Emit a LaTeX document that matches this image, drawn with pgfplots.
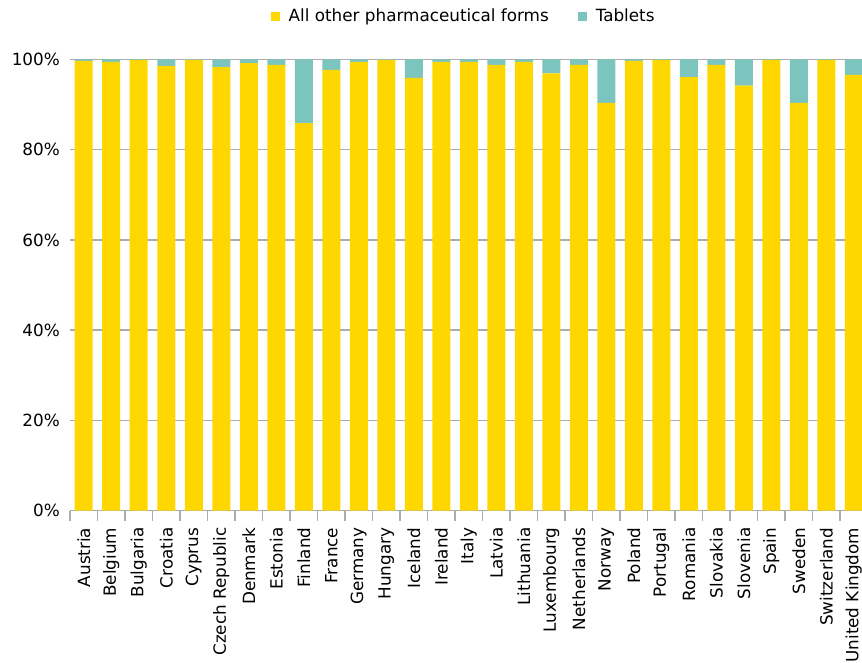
\documentclass[border=0pt]{standalone}
\usepackage{pgfplots}
\usepackage{pgfplotstable}
\pgfplotsset{compat=1.18}
\usepackage{fontspec}
\setmainfont{DejaVu Sans}
\definecolor{ylw}{RGB}{255,215,0}
\definecolor{tealc}{RGB}{124,196,190}
\definecolor{gridg}{RGB}{172,172,172}
\newcommand{\fs}{\fontsize{16.8}{20}\selectfont}
\pgfplotstableread{
x other tab
0 99.7 0.3
1 99.5 0.5
2 99.9 0.1
3 98.6 1.4
4 99.9 0.1
5 98.3 1.7
6 99.2 0.8
7 98.8 1.2
8 85.9 14.1
9 97.7 2.3
10 99.5 0.5
11 99.9 0.1
12 95.9 4.1
13 99.5 0.5
14 99.5 0.5
15 98.8 1.2
16 99.5 0.5
17 96.9 3.1
18 98.8 1.2
19 90.4 9.6
20 99.7 0.3
21 99.9 0.1
22 96.1 3.9
23 98.8 1.2
24 94.2 5.8
25 99.9 0.1
26 90.4 9.6
27 99.9 0.1
28 96.6 3.4
}\data
\begin{document}
\begin{tikzpicture}
\begin{axis}[
  at={(0,0)}, anchor=south west,
  scale only axis, width=792pt, height=451pt,
  ybar stacked, bar width=18pt,
  enlargelimits=false,
  xmin=-0.5, xmax=28.3, ymin=0, ymax=100,
  axis x line*=bottom, axis y line*=left,
  y axis line style={draw=none},
  x axis line style={draw=gridg, line width=1.5pt},
  xtick={0,...,28},
  xticklabels={Austria,Belgium,Bulgaria,Croatia,Cyprus,Czech Republic,Denmark,Estonia,Finland,France,Germany,Hungary,Iceland,Ireland,Italy,Latvia,Lithuania,Luxembourg,Netherlands,Norway,Poland,Portugal,Romania,Slovakia,Slovenia,Spain,Sweden,Switzerland,United Kingdom},
  minor xtick={-0.5,0.5,...,27.5},
  major tick length=0pt, minor tick length=10pt, tick align=outside,
  minor tick style={draw=gridg, line width=1.5pt},
  ytick={0,20,40,60,80,100},
  yticklabels={0\%,20\%,40\%,60\%,80\%,100\%},
  ymajorgrids, major grid style={draw=gridg, line width=1.5pt},
  ticklabel style={font=\fs, text=black},
  xticklabel style={rotate=90, anchor=east, inner sep=0pt},
  xticklabel shift=17pt,
  yticklabel style={anchor=east, inner sep=0pt},
  yticklabel shift=10pt,
  legend columns=2,
  legend style={at={(0.497,1.0964)}, anchor=center, draw=none, fill=none,
    font=\fs,
    /tikz/every odd column/.append style={column sep=7pt},
    /tikz/every even column/.append style={column sep=27pt}},
]
\addplot[fill=ylw, draw=none, legend image code/.code={\fill[ylw] (0pt,-4.5pt) rectangle (9pt,4.5pt);}] table[x=x,y=other]{\data};
\addplot[fill=tealc, draw=none, legend image code/.code={\fill[tealc] (0pt,-4.5pt) rectangle (9pt,4.5pt);}] table[x=x,y=tab]{\data};
\legend{All other pharmaceutical forms, Tablets}
\end{axis}
\pgfresetboundingbox
\useasboundingbox (-70pt,-151.5pt) rectangle (792pt,510.5pt);
\end{tikzpicture}
\end{document}
